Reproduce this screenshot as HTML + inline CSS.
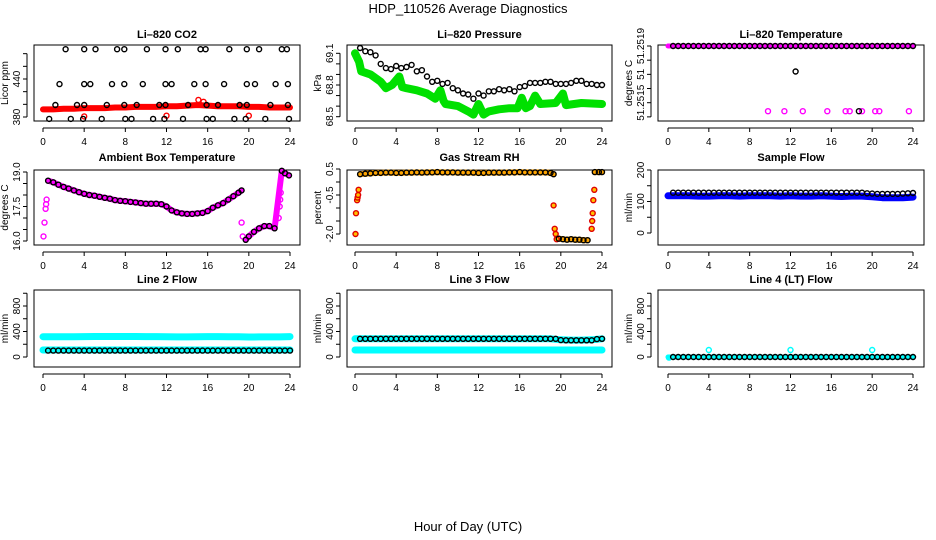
<!DOCTYPE html>
<html><head><meta charset="utf-8"><style>
html,body{margin:0;padding:0;background:#fff;}
svg{display:block;font-family:"Liberation Sans",sans-serif;}
</style></head><body>
<svg id="c" width="936" height="540" viewBox="0 0 936 540" xmlns="http://www.w3.org/2000/svg">
<text x="468" y="13" text-anchor="middle" font-size="13">HDP_110526  Average Diagnostics</text>
<text x="468" y="531" text-anchor="middle" font-size="13">Hour of Day (UTC)</text>
</svg>
<script>
// ---- shared data ----
const xTicks = [0,4,8,12,16,20,24];
const HR = [0.5,1,1.5,2,2.5,3,3.5,4,4.5,5,5.5,6,6.5,7,7.5,8,8.5,9,9.5,10,10.5,11,11.5,12,12.5,13,13.5,14,14.5,15,15.5,16,16.5,17,17.5,18,18.5,19,19.5,20,20.5,21,21.5,22,22.5,23,23.5,24];
const HOURLY = [0,1,2,3,4,5,6,7,8,9,10,11,12,13,14,15,16,17,18,19,20,21,22,23,24];

// CO2
const co2TopH = [2.2,4.0,5.1,7.2,7.9,10.1,11.9,13.1,15.3,15.8,18.1,19.8,21.0,23.2,23.7];
const co2MidH = [1.6,4.0,4.6,6.7,7.9,9.7,11.9,12.5,14.7,15.8,17.6,19.8,20.6,22.6,23.8];
const co2LowH = [1.2,3.3,4.0,6.2,7.9,9.1,11.3,11.9,14.1,15.9,17.0,19.1,19.8,22.1,23.8];
const co2BotH = [0.6,2.7,3.9,5.7,8.0,8.6,10.7,11.8,13.6,15.9,16.5,18.6,19.7,21.6,23.9];
const co2Levels = [487,432,399,377];
const co2Red = [392,392,393,393,394,394,394,395,395,396,396,396,397,397,398,399,398,397,397,397,396,396,395,395,395];
const co2RedOutH = [4.0,12.0,20.0,15.1,15.6];
const co2RedOutV = [381,382,382,407,404];

// Pressure
const presBlack = [69.15,69.12,69.11,69.08,69.0,68.96,68.95,68.98,68.96,68.97,68.99,68.93,68.94,68.88,68.83,68.84,68.81,68.82,68.77,68.75,68.72,68.71,68.67,68.72,68.70,68.74,68.74,68.76,68.75,68.76,68.74,68.78,68.79,68.82,68.82,68.82,68.83,68.83,68.81,68.81,68.81,68.82,68.84,68.84,68.81,68.81,68.80,68.80];
const presGreenH = [0,0.4,0.6,1.5,2.5,3,3.6,4.3,4.6,5,6,7,7.8,8.1,8.3,8.6,8.8,10,11,11.5,12,12.5,13,14,15,15.8,16.2,16.6,17,17.5,18,19.5,20.2,20.5,22,24];
const presGreenV = [69.1,69.02,68.93,68.9,68.83,68.77,68.8,68.88,68.78,68.77,68.75,68.72,68.67,68.72,68.75,68.65,68.62,68.6,68.55,68.52,68.62,68.52,68.55,68.57,68.58,68.58,68.68,68.58,68.6,68.7,68.62,68.63,68.72,68.61,68.63,68.62];

// Li-820 temperature
const tempTop = 51.2519;
const tempOutBlackH = [12.5,18.7];
const tempOutBlackV = [51.25172,51.25144];
const tempOutMagH = [9.8,11.4,13.2,15.6,17.4,17.8,19.0,20.3,20.7,23.6];
const tempOutMagV = [51.25144,51.25144,51.25144,51.25144,51.25144,51.25144,51.25144,51.25144,51.25144,51.25144];

// Ambient box temperature
const ambH = [0.5,1,1.5,2,2.5,3,3.5,4,4.5,5,5.5,6,6.5,7,7.5,8,8.5,9,9.5,10,10.5,11,11.5,12,12.5,13,13.5,14,14.5,15,15.5,16,16.5,17,17.5,18,18.5,19,19.3,null,19.7,20,20.5,21,21.5,22,22.5,23.2,23.5,23.9];
const ambV = [18.62,18.55,18.45,18.35,18.28,18.2,18.12,18.05,18.0,17.97,17.92,17.88,17.84,17.78,17.75,17.73,17.7,17.68,17.65,17.62,17.62,17.62,17.6,17.5,17.33,17.25,17.2,17.18,17.18,17.2,17.22,17.3,17.45,17.55,17.65,17.8,17.95,18.1,18.2,null,16.05,16.2,16.4,16.55,16.65,16.65,16.55,19.05,18.95,18.85];
const ambOutH = [0.05,0.15,0.25,0.3,0.35,19.3,19.4,22.9,23.0,23.05,23.1];
const ambOutV = [16.2,16.8,17.4,17.6,17.8,16.8,16.2,17.0,17.5,17.8,18.1];

// Gas stream RH
const rhH = [0.5,1,1.5,2,2.5,3,3.5,4,4.5,5,5.5,6,6.5,7,7.5,8,8.5,9,9.5,10,10.5,11,11.5,12,12.5,13,13.5,14,14.5,15,15.5,16,16.5,17,17.5,18,18.5,19,19.3,null,19.8,20.2,20.6,21,21.4,21.8,22.2,22.6,null,23.3,23.7,24];
const rhV = [0.3,0.32,0.33,0.35,0.35,0.36,0.36,0.35,0.35,0.36,0.36,0.37,0.36,0.37,0.37,0.38,0.37,0.37,0.37,0.36,0.36,0.36,0.36,0.35,0.35,0.36,0.36,0.36,0.36,0.37,0.37,0.38,0.37,0.37,0.37,0.37,0.37,0.35,0.3,null,-2.18,-2.2,-2.22,-2.2,-2.22,-2.22,-2.24,-2.24,null,0.38,0.38,0.38];
const rhOutH = [0.05,0.1,0.2,0.25,0.3,0.35,19.3,19.4,19.5,19.6,23.0,23.05,23.1,23.15,23.25];
const rhOutV = [-2.0,-1.2,-0.7,-0.6,-0.5,-0.3,-0.9,-1.8,-2.0,-2.2,-1.8,-1.5,-1.2,-0.7,-0.3];

// Sample flow
const sampBlue = [118,118,118,117,117,118,118,117,118,118,118,117,118,117,117,118,117,116,117,117,115,112,112,112,114];
const sampBlack = [128,128,128,128,128,128,128,128,128,128,128,128,128,128,128,128,128,128,128,128,128,128,128,128,128,128,128,128,128,128,128,128,128,128,128,128,128,128,126,125,124,124,124,124,124,125,126,127];

// Line flows
const l2Upper = [318,318,318,318,320,322,322,322,322,322,320,320,318,316,316,318,320,320,318,318,314,316,316,316,320];
const l2Lower = [110,110,110,110,110,110,110,110,110,110,110,110,110,110,110,110,110,110,110,110,110,110,110,110,110];
const l2Black = [100,100,100,100,100,100,100,100,100,100,100,100,100,100,100,100,100,100,100,100,100,100,100,100,100,100,100,100,100,100,100,100,100,100,100,100,100,100,100,100,100,100,100,100,100,100,100,100];
const l3Upper = [285,285,285,285,285,285,285,285,285,285,285,285,285,285,285,285,285,285,285,285,270,265,265,270,285];
const l3Lower = [110,110,110,110,110,110,110,110,110,110,110,110,110,110,110,110,110,110,110,110,110,110,110,110,110];
const l3Black = [285,285,285,285,285,285,285,285,285,285,285,285,285,285,285,285,285,285,285,285,285,285,285,285,285,285,285,285,285,285,285,285,285,285,285,285,285,285,285,265,262,262,262,262,262,262,280,285];
const l4Band = [0,0,0,0,0,0,0,0,0,0,0,0,0,0,0,0,0,0,0,0,-5,-5,-5,0,0];
const l4Black = [0,0,0,0,0,0,0,0,0,0,0,0,0,0,0,0,0,0,0,0,0,0,0,0,0,0,0,0,0,0,0,0,0,0,0,0,0,0,0,0,0,0,0,0,0,0,0,0];
const l4OutH = [4,12,20,0.1];
const l4OutV = [110,110,110,-10];

// ---- drawing ----
const NS = "http://www.w3.org/2000/svg";
const svg = document.getElementById('c');
function mk(tag, attrs, parent){ const e=document.createElementNS(NS,tag); for(const k in attrs) e.setAttribute(k,attrs[k]); (parent||svg).appendChild(e); return e; }

const COLS = {L:{bl:34,br:300,x0:43,x24:290}, M:{bl:347,br:612,x0:355,x24:602}, R:{bl:658,br:924,x0:668,x24:913}};
const ROWS = {1:{bt:45,bb:121,ty:38}, 2:{bt:170,bb:245,ty:161}, 3:{bt:290,bb:367,ty:283}};

function panel(name, col, row, title, ylab, v1, p1, v2, p2, ticks, labels){
  const c=COLS[col], r=ROWS[row];
  const g = mk('g',{});
  
  
  const sx = h => c.x0 + (c.x24-c.x0)*h/24;
  const sy = v => p1 + (p2-p1)*(v-v1)/(v2-v1);
  const t = mk('text',{x:(c.bl+c.br)/2, y:r.ty, 'text-anchor':'middle','font-size':11,'font-weight':'bold'},g);
  t.textContent = title;
  
  
  const box = mk('rect',{x:c.bl,y:r.bt,width:c.br-c.bl,height:r.bb-r.bt,fill:'none',stroke:'#000','stroke-width':1},g);
  
  
  // x axis
  const xa = mk('g',{},g);
  
  
  mk('line',{x1:sx(0),x2:sx(24),y1:r.bb+7,y2:r.bb+7,stroke:'#000'},xa);
  xTicks.forEach(h=>{
    mk('line',{x1:sx(h),x2:sx(h),y1:r.bb+7,y2:r.bb+11,stroke:'#000'},xa);
    const tl = mk('text',{x:sx(h),y:r.bb+24,'text-anchor':'middle','font-size':10},xa);
    tl.textContent = h;
    
    
  });
  // y axis
  const ya = mk('g',{},g);
  
  
  const ax = c.bl-7;
  mk('line',{x1:ax,x2:ax,y1:sy(ticks[0]),y2:sy(ticks[ticks.length-1]),stroke:'#000'},ya);
  ticks.forEach((v,i)=>{
    mk('line',{x1:ax-4,x2:ax,y1:sy(v),y2:sy(v),stroke:'#000'},ya);
    if(labels[i]){
      const yl = mk('text',{x:ax-7,y:sy(v),'text-anchor':'middle','font-size':10,transform:`rotate(-90 ${ax-7} ${sy(v)})`},ya);
      yl.textContent = labels[i];
      
      
    }
  });
  const ylx = ax-19, lyc=(r.bt+r.bb)/2;
  const yt = mk('text',{x:ylx,y:lyc,'text-anchor':'middle','font-size':10,transform:`rotate(-90 ${ylx} ${lyc})`},g);
  yt.textContent = ylab;
  
  
  const data = mk('g',{},g);
  
  
  return {sx, sy, g:data};
}
function band(P, hs, vs, color, w, nm){
  let d='', pen=false;
  const n=Math.min(hs.length,vs.length);
  for(let i=0;i<n;i++){
    if(hs[i]===null||vs[i]===null){pen=false;continue;}
    d += (pen?'L':'M')+P.sx(hs[i]).toFixed(1)+' '+P.sy(vs[i]).toFixed(1)+' ';
    pen=true;
  }
  const p = mk('path',{d, fill:'none', stroke:color,'stroke-width':w,'stroke-linecap':'round','stroke-linejoin':'round'},P.g);
  
  
}
function pts(P, hs, vs, color, nm, fill, rr){
  const n=Math.min(hs.length,vs.length);
  for(let i=0;i<n;i++){
    if(hs[i]===null||vs[i]===null) continue;
    const e = mk('circle',{cx:P.sx(hs[i]).toFixed(1),cy:P.sy(vs[i]).toFixed(1),r:rr||2.5,fill:fill||'none',stroke:color,'stroke-width':1.4},P.g);
    
    
  }
}
const fill = (arr,v)=>arr.map(()=>v);

// CO2
let P = panel('co2','L',1,'Li–820 CO2','Licor ppm',380,117,440,79,[380,400,420,440,460,480],['380','','','440','','']);
band(P, HOURLY, co2Red, '#ff0000', 6, 'co2-red-band');
pts(P, co2RedOutH, co2RedOutV, '#ff0000', 'co2-red-point');
pts(P, co2TopH, fill(co2TopH,co2Levels[0]), '#000', 'co2-point');
pts(P, co2MidH, fill(co2MidH,co2Levels[1]), '#000', 'co2-point');
pts(P, co2LowH, fill(co2LowH,co2Levels[2]), '#000', 'co2-point');
pts(P, co2BotH, fill(co2BotH,co2Levels[3]), '#000', 'co2-point');

// Pressure
P = panel('pressure','M',1,'Li–820 Pressure','kPa',68.5,116.7,69.1,53.3,[68.5,68.6,68.7,68.8,68.9,69.0,69.1],['68.5','','','68.8','','','69.1']);
band(P, presGreenH, presGreenV, '#00e000', 8, 'pressure-green-band');
pts(P, HR, presBlack, '#000', 'pressure-point');

// Li-820 temperature
P = panel('li820-temp','R',1,'Li–820 Temperature','degrees C',51.2515,102.7,51.2519,46,[51.2519,51.2518,51.2517,51.2516,51.2515,51.2514],['51.2519','','51','','51.2515','']);
band(P, [0,24], [tempTop,tempTop], '#ff00ff', 5, 'li820-temp-magenta-band');
pts(P, HR, fill(HR,tempTop), '#000', 'li820-temp-point');
pts(P, tempOutMagH, tempOutMagV, '#ff00ff', 'li820-temp-magenta-point');
pts(P, tempOutBlackH, tempOutBlackV, '#000', 'li820-temp-point');

// Ambient
P = panel('ambient-temp','L',2,'Ambient Box Temperature','degrees C',16.0,241,19.0,172,[16.0,16.5,17.0,17.5,18.0,18.5,19.0],['16.0','','','17.5','','','19.0']);
band(P, ambH, ambV, '#ff00ff', 6, 'ambient-magenta-band');
pts(P, ambOutH, ambOutV, '#ff00ff', 'ambient-magenta-point');
pts(P, ambH, ambV, '#000', 'ambient-point');

// RH
P = panel('gas-rh','M',2,'Gas Stream RH','percent',-2.0,234,0.5,169,[-2.0,-1.5,-1.0,-0.5,0,0.5],['-2.0','','','-0.5','','0.5']);
band(P, rhH, rhV, '#ffa500', 6, 'rh-orange-band');
pts(P, rhOutH, rhOutV, '#e00000', 'rh-orange-point', '#ffc000');
pts(P, rhH, rhV, '#000', 'rh-point');

// Sample flow
P = panel('sample-flow','R',2,'Sample Flow','ml/min',0,233,200,170,[0,50,100,150,200],['0','','100','','200']);
band(P, HOURLY, sampBlue, '#0000ff', 7, 'sample-blue-band');
pts(P, HR, sampBlack, '#000', 'sample-point');

// Line 2
P = panel('line2-flow','L',3,'Line 2 Flow','ml/min',0,357,800,306,[0,200,400,600,800,1000],['0','','400','','800','']);
band(P, HOURLY, l2Upper, '#00ffff', 7, 'line2-cyan-upper');
band(P, HOURLY, l2Lower, '#00ffff', 7, 'line2-cyan-lower');
pts(P, HR, l2Black, '#000', 'line2-point');

// Line 3
P = panel('line3-flow','M',3,'Line 3 Flow','ml/min',0,357,800,306,[0,200,400,600,800,1000],['0','','400','','800','']);
band(P, HOURLY, l3Upper, '#00ffff', 7, 'line3-cyan-upper');
band(P, HOURLY, l3Lower, '#00ffff', 7, 'line3-cyan-lower');
pts(P, HR, l3Black, '#000', 'line3-point');

// Line 4
P = panel('line4-flow','R',3,'Line 4 (LT) Flow','ml/min',0,357,800,306,[0,200,400,600,800,1000],['0','','400','','800','']);
band(P, HOURLY, l4Band, '#00ffff', 5, 'line4-cyan-band');
pts(P, l4OutH, l4OutV, '#00ffff', 'line4-cyan-point');
pts(P, HR, l4Black, '#000', 'line4-point');
</script>
</body></html>
